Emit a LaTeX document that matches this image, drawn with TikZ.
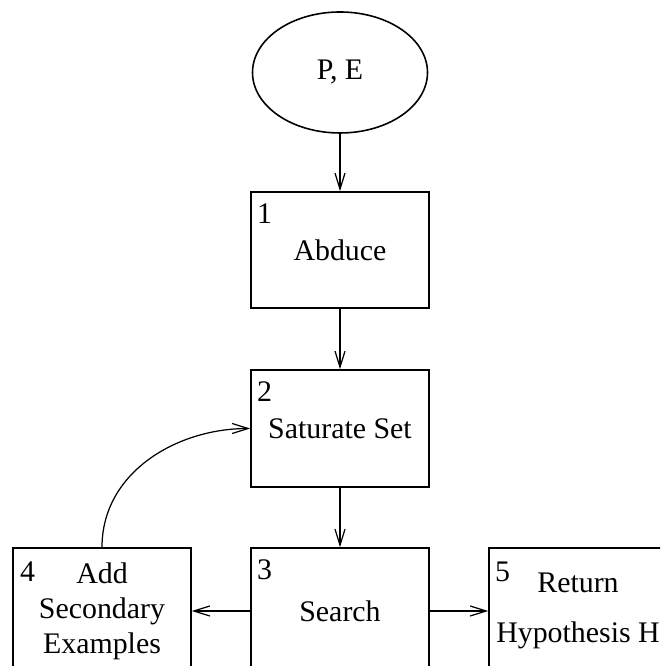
\documentclass[tikz,border=0pt]{standalone}
\usepackage{fontspec}
\setmainfont{Liberation Serif}
\usetikzlibrary{positioning,arrows.meta,shapes.geometric}

\begin{document}
\begin{tikzpicture}[
    stagebox/.style={draw, line width=0.9pt, minimum width=3.56cm, minimum height=2.34cm, inner sep=0pt, align=center},
    numlabel/.style={inner sep=0pt},
    flow/.style={line width=0.7pt, -{Straight Barb[length=0.32cm,width=0.2cm]}},
    font=\fontsize{17}{20}\selectfont]
  % page is 13.2 x 13.32 cm, the bottom row runs off the edge
  \clip (0,0) rectangle (13.2,13.32);
  % input
  \node[draw, ellipse, line width=0.9pt, minimum width=3.5cm, minimum height=2.42cm, inner sep=0pt] (pe) at (6.8,11.87) {P, E};
  % main column
  \node[stagebox, minimum height=2.32cm] (abduce) at (6.8,8.32) {Abduce};
  \node[stagebox] (saturate) at (6.8,4.75) {Saturate Set};
  \node[stagebox, minimum height=2.52cm] (search) at (6.8,1.1) {Search};
  % bottom row
  \node[stagebox, minimum height=2.52cm] (addsec) at (2.04,1.1) {Add\\Secondary\\Examples};
  \node[stagebox, minimum height=2.52cm] (ret) at (11.56,1.1) {Return\\[0.3cm]Hypothesis H};
  % step numbers
  \node[numlabel, below right=0.24cm and 0.13cm of abduce.north west] (n1) {1};
  \node[numlabel, below right=0.24cm and 0.13cm of saturate.north west] (n2) {2};
  \node[numlabel, below right=0.24cm and 0.13cm of search.north west] (n3) {3};
  \node[numlabel, below right=0.28cm and 0.15cm of addsec.north west] (n4) {4};
  \node[numlabel, below right=0.28cm and 0.13cm of ret.north west] (n5) {5};
  % connectors
  \draw[flow] (pe) -- (abduce);
  \draw[flow] (abduce) -- (saturate);
  \draw[flow] (saturate) -- (search);
  \draw[flow] (search) -- (addsec);
  \draw[flow] (search) -- (ret);
  \draw[flow] (addsec.north) to[out=90, in=180] (saturate.west);
\end{tikzpicture}
\end{document}
